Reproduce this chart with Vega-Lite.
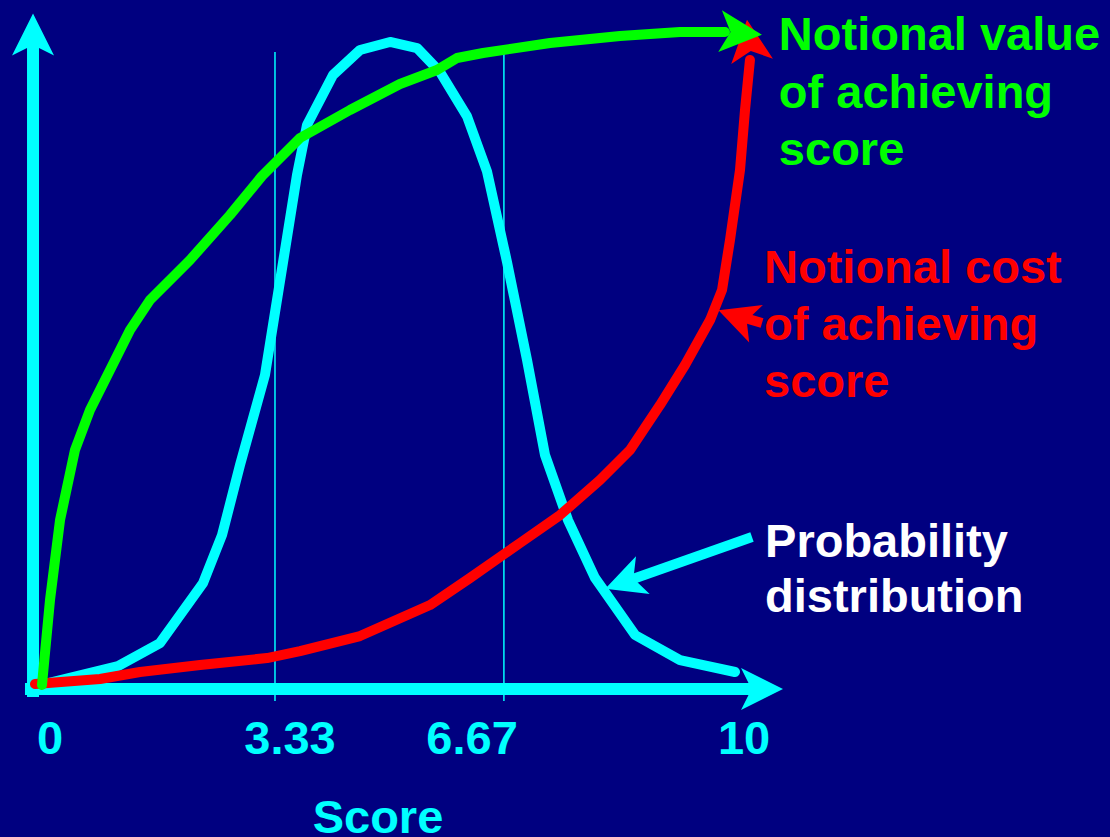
{
  "$schema": "https://vega.github.io/schema/vega-lite/v6.json",
  "width": 1110,
  "height": 837,
  "padding": 0,
  "autosize": {"type": "none"},
  "background": "#000080",
  "config": {"view": {"stroke": null}},
  "datasets": {
    "curves": [
      {"series": "probability", "i": 0, "score": 0, "val": 0.62},
      {"series": "probability", "i": 1, "score": 1.106, "val": 3.55},
      {"series": "probability", "i": 2, "score": 1.702, "val": 7.11},
      {"series": "probability", "i": 3, "score": 2.312, "val": 16.38},
      {"series": "probability", "i": 4, "score": 2.582, "val": 23.8},
      {"series": "probability", "i": 5, "score": 2.837, "val": 34.62},
      {"series": "probability", "i": 6, "score": 3.191, "val": 48.53},
      {"series": "probability", "i": 7, "score": 3.475, "val": 67.85},
      {"series": "probability", "i": 8, "score": 3.645, "val": 79.44},
      {"series": "probability", "i": 9, "score": 3.787, "val": 87.17},
      {"series": "probability", "i": 10, "score": 4.156, "val": 94.9},
      {"series": "probability", "i": 11, "score": 4.539, "val": 98.76},
      {"series": "probability", "i": 12, "score": 4.965, "val": 100.0},
      {"series": "probability", "i": 13, "score": 5.348, "val": 99.07},
      {"series": "probability", "i": 14, "score": 5.674, "val": 95.36},
      {"series": "probability", "i": 15, "score": 6.057, "val": 88.5},
      {"series": "probability", "i": 16, "score": 6.34, "val": 80.0},
      {"series": "probability", "i": 17, "score": 6.624, "val": 66.0},
      {"series": "probability", "i": 18, "score": 6.908, "val": 50.85},
      {"series": "probability", "i": 19, "score": 7.163, "val": 36.17},
      {"series": "probability", "i": 20, "score": 7.489, "val": 26.12},
      {"series": "probability", "i": 21, "score": 7.872, "val": 17.16},
      {"series": "probability", "i": 22, "score": 8.44, "val": 8.35},
      {"series": "probability", "i": 23, "score": 9.078, "val": 4.48},
      {"series": "probability", "i": 24, "score": 9.858, "val": 2.63},

      {"series": "cost", "i": 0, "score": -0.071, "val": 0.77},
      {"series": "cost", "i": 1, "score": 0.851, "val": 1.55},
      {"series": "cost", "i": 2, "score": 1.418, "val": 2.63},
      {"series": "cost", "i": 3, "score": 2.27, "val": 3.71},
      {"series": "cost", "i": 4, "score": 3.22, "val": 4.79},
      {"series": "cost", "i": 5, "score": 3.688, "val": 5.87},
      {"series": "cost", "i": 6, "score": 4.539, "val": 8.19},
      {"series": "cost", "i": 7, "score": 5.532, "val": 12.98},
      {"series": "cost", "i": 8, "score": 6.099, "val": 17.16},
      {"series": "cost", "i": 9, "score": 6.809, "val": 22.57},
      {"series": "cost", "i": 10, "score": 7.376, "val": 26.89},
      {"series": "cost", "i": 11, "score": 7.943, "val": 32.3},
      {"series": "cost", "i": 12, "score": 8.369, "val": 36.94},
      {"series": "cost", "i": 13, "score": 8.794, "val": 43.89},
      {"series": "cost", "i": 14, "score": 9.149, "val": 50.08},
      {"series": "cost", "i": 15, "score": 9.504, "val": 57.03},
      {"series": "cost", "i": 16, "score": 9.674, "val": 61.67},
      {"series": "cost", "i": 17, "score": 9.787, "val": 69.4},
      {"series": "cost", "i": 18, "score": 9.929, "val": 80.22},
      {"series": "cost", "i": 19, "score": 10.0, "val": 89.49},
      {"series": "cost", "i": 20, "score": 10.07, "val": 97.22},

      {"series": "value", "i": 0, "score": 0.028, "val": 0.62},
      {"series": "value", "i": 1, "score": 0.142, "val": 13.76},
      {"series": "value", "i": 2, "score": 0.284, "val": 26.12},
      {"series": "value", "i": 3, "score": 0.496, "val": 36.94},
      {"series": "value", "i": 4, "score": 0.709, "val": 43.12},
      {"series": "value", "i": 5, "score": 1.277, "val": 55.49},
      {"series": "value", "i": 6, "score": 1.56, "val": 60.12},
      {"series": "value", "i": 7, "score": 2.128, "val": 66.31},
      {"series": "value", "i": 8, "score": 2.695, "val": 73.26},
      {"series": "value", "i": 9, "score": 3.149, "val": 79.29},
      {"series": "value", "i": 10, "score": 3.688, "val": 85.16},
      {"series": "value", "i": 11, "score": 4.397, "val": 89.49},
      {"series": "value", "i": 12, "score": 5.106, "val": 93.51},
      {"series": "value", "i": 13, "score": 5.631, "val": 95.67},
      {"series": "value", "i": 14, "score": 5.915, "val": 97.53},
      {"series": "value", "i": 15, "score": 6.284, "val": 98.3},
      {"series": "value", "i": 16, "score": 7.234, "val": 99.85},
      {"series": "value", "i": 17, "score": 8.227, "val": 100.93},
      {"series": "value", "i": 18, "score": 9.078, "val": 101.55},
      {"series": "value", "i": 19, "score": 9.716, "val": 101.55}
    ],
    "guides": [
      {"score": 3.333, "val": 98.45, "score2": 3.333, "val2": -1.85},
      {"score": 6.58, "val": 98.3, "score2": 6.58, "val2": -1.85}
    ],
    "axes": [
      {"score": -0.099, "val": -1.24, "score2": -0.099, "val2": 100.3},
      {"score": -0.213, "val": 0, "score2": 10.213, "val2": 0}
    ],
    "shafts": [
      {"series": "probability", "score": 10.099, "val": 23.49, "score2": 8.369, "val2": 16.85},
      {"series": "cost", "score": 10.0, "val": 57.34, "score2": 10.241, "val2": 56.57}
    ],
    "heads": [
      {"series": "axis", "score": -0.099, "val": 101.16, "dir": 0},
      {"series": "axis", "score": 10.241, "val": 0, "dir": 90},
      {"series": "cost", "score": 10.064, "val": 100.23, "dir": -7},
      {"series": "value", "score": 9.943, "val": 101.39, "dir": 95}
    ],
    "pointers": [
      {"series": "probability", "score": 8.284, "val": 16.54, "dir": 250},
      {"series": "cost", "score": 9.89, "val": 57.5, "dir": -70}
    ],
    "ticks": [
      {"series": "axis", "text": "0", "score": 0.142, "val": -10.05},
      {"series": "axis", "text": "3.33", "score": 3.546, "val": -10.05},
      {"series": "axis", "text": "6.67", "score": 6.128, "val": -10.05},
      {"series": "axis", "text": "10", "score": 9.986, "val": -10.05},
      {"series": "axis", "text": "Score", "score": 4.794, "val": -22.2}
    ],
    "captions": [
      {"series": "value", "text": "Notional value", "score": 10.48, "val": 98.76},
      {"series": "value", "text": "of achieving", "score": 10.48, "val": 89.8},
      {"series": "value", "text": "score", "score": 10.48, "val": 80.99},
      {"series": "cost", "text": "Notional cost", "score": 10.27, "val": 62.75},
      {"series": "cost", "text": "of achieving", "score": 10.27, "val": 53.94},
      {"series": "cost", "text": "score", "score": 10.27, "val": 45.13},
      {"series": "caption", "text": "Probability", "score": 10.284, "val": 20.4},
      {"series": "caption", "text": "distribution", "score": 10.284, "val": 11.9}
    ]
  },
  "encoding": {
    "x": {"field": "score", "type": "quantitative", "scale": {"domain": [-0.5674, 15.177], "nice": false, "zero": false}, "axis": null},
    "y": {"field": "val", "type": "quantitative", "scale": {"domain": [-22.87, 106.49], "nice": false, "zero": false}, "axis": null}
  },
  "layer": [
    {
      "data": {"name": "guides"},
      "mark": {"type": "rule", "color": "#00FFFF", "strokeWidth": 1.5},
      "encoding": {"x2": {"field": "score2"}, "y2": {"field": "val2"}}
    },
    {
      "data": {"name": "axes"},
      "mark": {"type": "rule", "color": "#00FFFF", "strokeWidth": 12, "strokeCap": "butt"},
      "encoding": {"x2": {"field": "score2"}, "y2": {"field": "val2"}}
    },
    {
      "data": {"name": "curves"},
      "transform": [{"filter": "datum.series === 'probability'"}],
      "mark": {"type": "line", "color": "#00FFFF", "strokeWidth": 10, "strokeCap": "round", "strokeJoin": "round"},
      "encoding": {"order": {"field": "i", "type": "quantitative"}}
    },
    {
      "data": {"name": "curves"},
      "transform": [{"filter": "datum.series === 'cost'"}],
      "mark": {"type": "line", "color": "#FF0000", "strokeWidth": 10, "strokeCap": "round", "strokeJoin": "round"},
      "encoding": {"order": {"field": "i", "type": "quantitative"}}
    },
    {
      "data": {"name": "curves"},
      "transform": [{"filter": "datum.series === 'value'"}],
      "mark": {"type": "line", "color": "#00FF00", "strokeWidth": 10, "strokeCap": "round", "strokeJoin": "round"},
      "encoding": {"order": {"field": "i", "type": "quantitative"}}
    },
    {
      "data": {"name": "shafts"},
      "mark": {"type": "rule", "strokeWidth": 10, "strokeCap": "butt"},
      "encoding": {
        "x2": {"field": "score2"}, "y2": {"field": "val2"},
        "color": {"field": "series", "type": "nominal", "legend": null,
          "scale": {"domain": ["probability", "value", "cost", "axis", "caption"], "range": ["#00FFFF", "#00FF00", "#FF0000", "#00FFFF", "#FFFFFF"]}}
      }
    },
    {
      "data": {"name": "heads"},
      "mark": {"type": "point", "shape": "M0,-1L1,1L0,0.5L-1,1Z", "filled": true, "opacity": 1, "strokeWidth": 0, "size": 1764},
      "encoding": {
        "angle": {"field": "dir", "type": "quantitative", "scale": null},
        "color": {"field": "series", "type": "nominal", "legend": null,
          "scale": {"domain": ["probability", "value", "cost", "axis", "caption"], "range": ["#00FFFF", "#00FF00", "#FF0000", "#00FFFF", "#FFFFFF"]}}
      }
    },
    {
      "data": {"name": "pointers"},
      "mark": {"type": "point", "shape": "M0,-1L1,1L0,0.5L-1,1Z", "filled": true, "opacity": 1, "strokeWidth": 0, "size": 1600},
      "encoding": {
        "angle": {"field": "dir", "type": "quantitative", "scale": null},
        "color": {"field": "series", "type": "nominal", "legend": null,
          "scale": {"domain": ["probability", "value", "cost", "axis", "caption"], "range": ["#00FFFF", "#00FF00", "#FF0000", "#00FFFF", "#FFFFFF"]}}
      }
    },
    {
      "data": {"name": "ticks"},
      "mark": {"type": "text", "align": "center", "baseline": "alphabetic", "font": "Liberation Sans", "fontWeight": "bold", "fontSize": 47},
      "encoding": {
        "text": {"field": "text"},
        "color": {"field": "series", "type": "nominal", "legend": null,
          "scale": {"domain": ["probability", "value", "cost", "axis", "caption"], "range": ["#00FFFF", "#00FF00", "#FF0000", "#00FFFF", "#FFFFFF"]}}
      }
    },
    {
      "data": {"name": "captions"},
      "mark": {"type": "text", "align": "left", "baseline": "alphabetic", "font": "Liberation Sans", "fontWeight": "bold", "fontSize": 47},
      "encoding": {
        "text": {"field": "text"},
        "color": {"field": "series", "type": "nominal", "legend": null,
          "scale": {"domain": ["probability", "value", "cost", "axis", "caption"], "range": ["#00FFFF", "#00FF00", "#FF0000", "#00FFFF", "#FFFFFF"]}}
      }
    }
  ]
}
